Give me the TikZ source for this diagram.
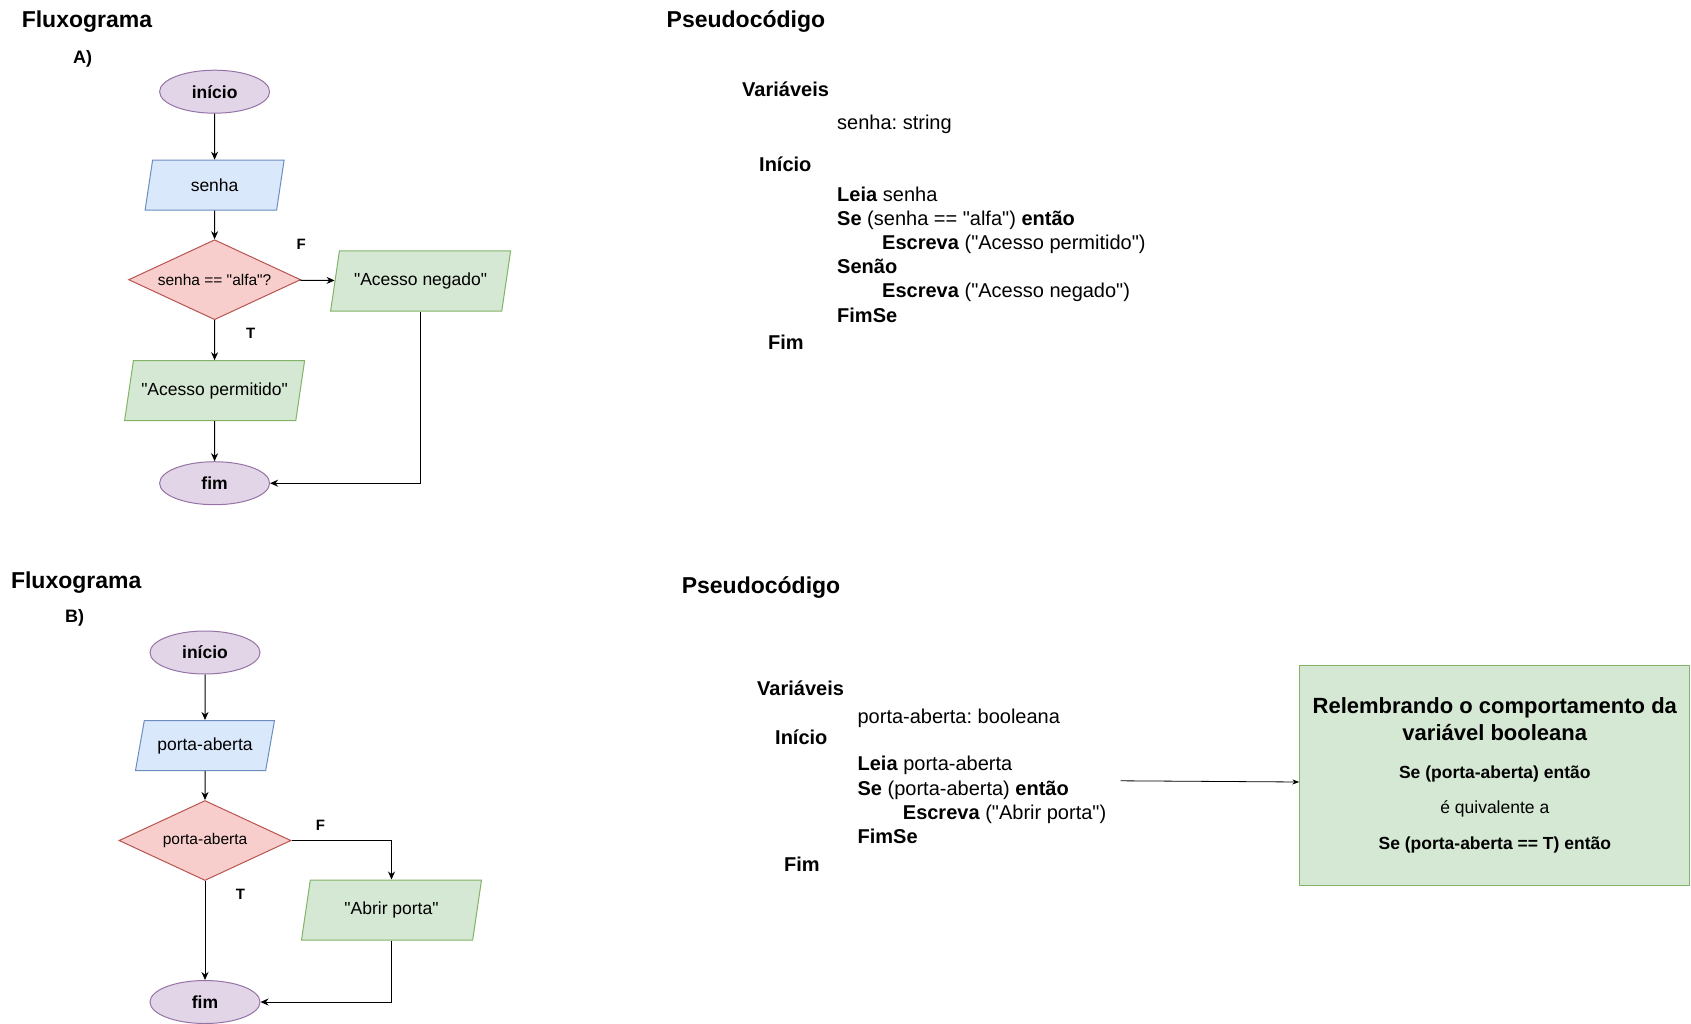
\documentclass[tikz,border=0pt]{standalone}
\usepackage{fontspec}
\setmainfont{Liberation Sans}[Ligatures=TeXOff]
\usetikzlibrary{positioning,shapes.geometric,arrows.meta}
\definecolor{roxoF}{HTML}{E1D5E7}
\definecolor{roxoB}{HTML}{9673A6}
\definecolor{azulF}{HTML}{DAE8FC}
\definecolor{azulB}{HTML}{6C8EBF}
\definecolor{vermF}{HTML}{F8CECC}
\definecolor{vermB}{HTML}{B85450}
\definecolor{verdeF}{HTML}{D5E8D4}
\definecolor{verdeB}{HTML}{82B366}
\frenchspacing

\begin{document}
\begin{tikzpicture}[x=1pt, y=-1pt,
        terminal/.style={ellipse, draw=roxoB, fill=roxoF, line width=1pt, minimum width=110pt, minimum height=43pt, font=\fontsize{17.5}{21}\selectfont\bfseries},
        entrada/.style={trapezium, trapezium left angle=69, trapezium right angle=111, trapezium stretches body, draw=azulB, fill=azulF, line width=1pt, minimum width=139pt, minimum height=50pt, font=\fontsize{17.5}{21}\selectfont},
        saida/.style={entrada, draw=verdeB, fill=verdeF, minimum width=180pt, minimum height=60pt},
        decisao/.style={diamond, aspect=2.12, draw=vermB, fill=vermF, line width=1pt, minimum width=172pt, minimum height=80pt, inner sep=0pt, font=\fontsize{15.5}{18}\selectfont},
        seta/.style={draw, line width=1pt, -{Stealth[length=8pt, width=7pt]}},
        rotulo/.style={font=\fontsize{15}{18}\selectfont\bfseries, inner sep=0pt},
        titulo/.style={font=\fontsize{23}{28}\selectfont\bfseries, inner sep=0pt, anchor=base west},
        letra/.style={font=\fontsize{18}{22}\selectfont\bfseries, inner sep=0pt, anchor=base west},
        codigo/.style={font=\fontsize{20}{24}\selectfont, inner sep=0pt, anchor=base west},
        nota/.style={rectangle, draw=verdeB, fill=verdeF, line width=1pt, minimum width=390pt, minimum height=220pt, align=center, font=\fontsize{17.5}{35.7}\selectfont}
    ]
        \useasboundingbox (0,0) rectangle (1691,1024);

        % Fluxograma A
        \node[titulo] (fluxoA) at (21.6,27.4) {Fluxograma};
        \node[letra] (letraA) at (73,63.5) {A)};
        \node[terminal] (inicioA) at (214.6,91.7) {início};
        \node[entrada, below=46pt of inicioA] (senhaA) {senha};
        \node[decisao, below=28.5pt of senhaA] (dA) {senha == "alfa"?};
        \node[saida, below=40pt of dA] (permA) {"Acesso permitido"};
        \node[terminal, below=40pt of permA] (fimA) {fim};
        \node[saida] (negA) at (420.6,281) {"Acesso negado"};
        \node[rotulo] (fA) at ([yshift=35pt]dA.east) {F};
        \node[rotulo] (tA) at ([xshift=36pt, yshift=-13pt]dA.south) {T};

        \draw[seta] (inicioA) -- (senhaA);
        \draw[seta] (senhaA) -- (dA);
        \draw[seta] (dA) -- (negA);
        \draw[seta] (dA) -- (permA);
        \draw[seta] (permA) -- (fimA);
        \draw[seta] (negA) |- (fimA);

        % Fluxograma B
        \node[titulo] (fluxoB) at (10.8,588) {Fluxograma};
        \node[letra] (letraB) at (65,622.5) {B)};
        \node[terminal] (inicioB) at (205,652.5) {início};
        \node[entrada, below=45.5pt of inicioB] (portaB) {porta-aberta};
        \node[decisao, below=29pt of portaB] (dB) {porta-aberta};
        \node[terminal, below=99pt of dB] (fimB) {fim};
        \node[saida] (abrirB) at (391.5,910) {"Abrir porta"};
        \node[rotulo] (fB) at ([xshift=29pt, yshift=15pt]dB.east) {F};
        \node[rotulo] (tB) at ([xshift=35.5pt, yshift=-13pt]dB.south) {T};

        \draw[seta] (inicioB) -- (portaB);
        \draw[seta] (portaB) -- (dB);
        \draw[seta] (dB) -| (abrirB);
        \draw[seta] (dB) -- (fimB);
        \draw[seta] (abrirB) |- (fimB);

        % Pseudocodigo A
        \node[titulo] (pseudoA) at (666.5,27.4) {Pseudocódigo};
        \node[codigo] (varA) at (742,96.5) {\textbf{Variáveis}};
        \node[codigo] (declA) at (837,130) {senha: string};
        \node[codigo] (inA) at (759,172) {\textbf{Início}};
        \node[codigo] (leiaA) at (837,202) {\textbf{Leia} senha};
        \node[codigo] (seA) at (837,226) {\textbf{Se} (senha == "alfa") \textbf{então}};
        \node[codigo] (esc1A) at (882,249.7) {\textbf{Escreva} ("Acesso permitido")};
        \node[codigo] (senaoA) at (837,273.4) {\textbf{Senão}};
        \node[codigo] (esc2A) at (882,297) {\textbf{Escreva} ("Acesso negado")};
        \node[codigo] (fimseA) at (837,322) {\textbf{FimSe}};
        \node[codigo] (fimtxtA) at (768,349) {\textbf{Fim}};

        % Pseudocodigo B
        \node[titulo] (pseudoB) at (681.6,593.6) {Pseudocódigo};
        \node[codigo] (varB) at (757,695) {\textbf{Variáveis}};
        \node[codigo] (declB) at (857.4,723) {porta-aberta: booleana};
        \node[codigo] (inB) at (775,744.7) {\textbf{Início}};
        \node[codigo] (leiaB) at (857.4,770.6) {\textbf{Leia} porta-aberta};
        \node[codigo] (seB) at (857.4,795) {\textbf{Se} (porta-aberta) \textbf{então}};
        \node[codigo] (escB) at (902.7,819) {\textbf{Escreva} ("Abrir porta")};
        \node[codigo] (fimseB) at (857.4,843) {\textbf{FimSe}};
        \node[codigo] (fimtxtB) at (784,871) {\textbf{Fim}};

        % Nota
        \node[nota] (nota) at (1494.8,775.4) {%
            \fontsize{22}{27}\selectfont\bfseries Relembrando o comportamento da\\[-8.7pt]
            \fontsize{22}{27}\selectfont\bfseries variável booleana\\[1.8pt]
            \bfseries Se (porta-aberta) então\\
            é quivalente a\\
            \bfseries Se (porta-aberta == T) então};
        \coordinate (origem) at (1120.6,780.8);
        \draw[line width=0.8pt, -{Stealth[length=7pt, width=5pt]}] (origem) -- ([yshift=-6.6pt]nota.west);
\end{tikzpicture}
\end{document}
